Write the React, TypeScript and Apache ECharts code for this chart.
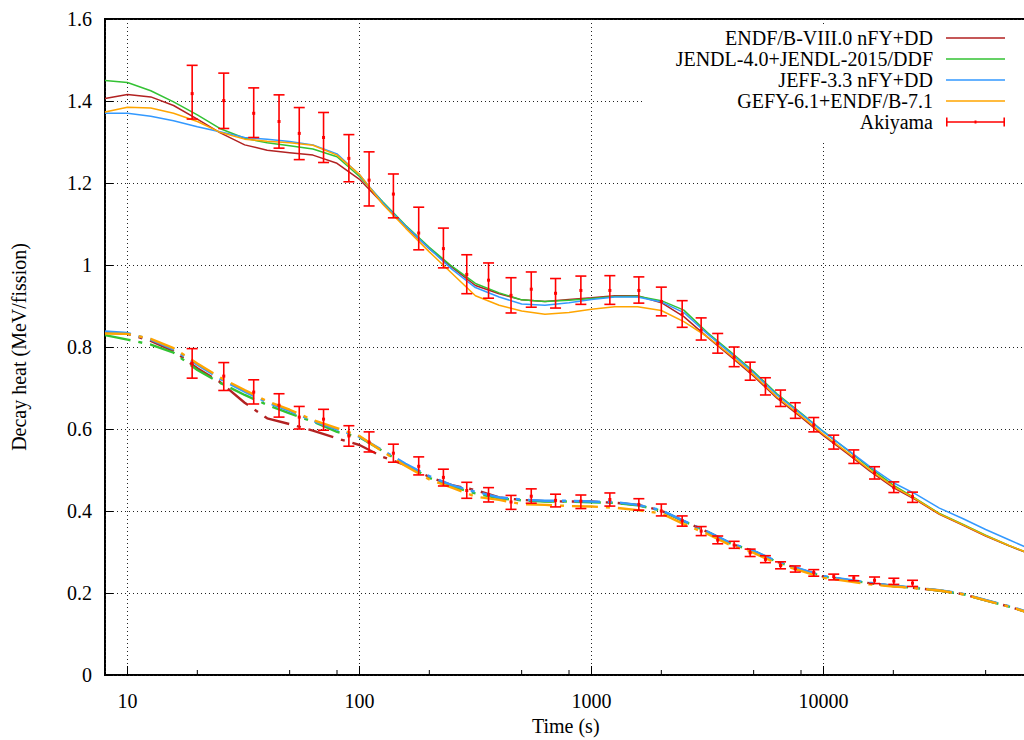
import React, { useEffect, useRef } from "react";
import * as echarts from "echarts";

const FONT = '"Liberation Serif", "Times New Roman", serif';

// Model time grid (s)
const TIMES = [8, 10, 12.6, 15.8, 20, 25, 32, 40, 50, 63, 80, 100, 126, 158, 200, 250, 316, 400, 500, 630, 800, 1000, 1260, 1580, 2000, 2500, 3160, 4000, 5000, 6300, 8000, 10000, 12600, 15800, 20000, 25000, 31600, 40000, 50000, 63000, 80000];

// Upper group (solid lines)
const ENDF_UP = [1.406, 1.416, 1.410, 1.389, 1.356, 1.323, 1.293, 1.280, 1.274, 1.268, 1.248, 1.209, 1.150, 1.094, 1.040, 0.995, 0.950, 0.930, 0.915, 0.911, 0.916, 0.920, 0.925, 0.925, 0.908, 0.874, 0.824, 0.776, 0.729, 0.675, 0.629, 0.584, 0.541, 0.498, 0.457, 0.427, 0.392, 0.365, 0.339, 0.315, 0.292];
const JENDL_UP = [1.450, 1.445, 1.425, 1.398, 1.366, 1.333, 1.309, 1.298, 1.291, 1.283, 1.264, 1.216, 1.154, 1.097, 1.043, 0.997, 0.955, 0.932, 0.915, 0.911, 0.914, 0.918, 0.923, 0.924, 0.913, 0.890, 0.835, 0.787, 0.740, 0.686, 0.639, 0.594, 0.550, 0.506, 0.463, 0.430, 0.394, 0.367, 0.341, 0.316, 0.293];
const JEFF_UP = [1.370, 1.370, 1.363, 1.352, 1.337, 1.325, 1.311, 1.307, 1.301, 1.293, 1.271, 1.220, 1.152, 1.095, 1.040, 0.990, 0.945, 0.922, 0.905, 0.902, 0.908, 0.916, 0.922, 0.922, 0.910, 0.884, 0.832, 0.784, 0.737, 0.683, 0.637, 0.593, 0.551, 0.509, 0.469, 0.441, 0.407, 0.381, 0.355, 0.330, 0.304];
const GEFY_UP = [1.373, 1.385, 1.383, 1.370, 1.350, 1.324, 1.307, 1.302, 1.298, 1.292, 1.268, 1.221, 1.148, 1.090, 1.032, 0.980, 0.925, 0.902, 0.888, 0.880, 0.884, 0.892, 0.898, 0.898, 0.889, 0.862, 0.825, 0.779, 0.732, 0.678, 0.632, 0.587, 0.544, 0.501, 0.460, 0.429, 0.393, 0.366, 0.340, 0.316, 0.293];

// Lower group (dash-dot lines)
const ENDF_LOW = [0.835, 0.832, 0.815, 0.790, 0.748, 0.715, 0.664, 0.626, 0.612, 0.596, 0.577, 0.561, 0.532, 0.512, 0.483, 0.463, 0.451, 0.433, 0.427, 0.424, 0.423, 0.423, 0.420, 0.415, 0.401, 0.375, 0.349, 0.320, 0.302, 0.276, 0.257, 0.240, 0.232, 0.224, 0.217, 0.212, 0.206, 0.197, 0.182, 0.167, 0.149];
const JENDL_LOW = [0.829, 0.818, 0.806, 0.786, 0.744, 0.713, 0.683, 0.659, 0.638, 0.618, 0.593, 0.580, 0.546, 0.513, 0.481, 0.460, 0.443, 0.431, 0.426, 0.423, 0.423, 0.421, 0.420, 0.414, 0.401, 0.375, 0.349, 0.320, 0.302, 0.276, 0.257, 0.240, 0.232, 0.224, 0.217, 0.212, 0.206, 0.197, 0.182, 0.167, 0.149];
const JEFF_LOW = [0.838, 0.834, 0.818, 0.794, 0.757, 0.723, 0.691, 0.665, 0.644, 0.620, 0.599, 0.581, 0.548, 0.515, 0.485, 0.463, 0.447, 0.433, 0.428, 0.425, 0.425, 0.423, 0.422, 0.415, 0.402, 0.376, 0.350, 0.321, 0.303, 0.277, 0.258, 0.241, 0.233, 0.225, 0.218, 0.213, 0.207, 0.198, 0.183, 0.168, 0.150];
const GEFY_LOW = [0.833, 0.832, 0.820, 0.797, 0.760, 0.726, 0.695, 0.668, 0.647, 0.622, 0.602, 0.583, 0.545, 0.510, 0.477, 0.457, 0.435, 0.427, 0.417, 0.415, 0.412, 0.411, 0.408, 0.402, 0.394, 0.368, 0.344, 0.316, 0.298, 0.272, 0.254, 0.237, 0.229, 0.221, 0.216, 0.212, 0.206, 0.197, 0.182, 0.167, 0.149];

// Akiyama measurements
const AKI_T = [19, 26, 35, 45, 55, 70, 90, 110, 140, 180, 230, 290, 360, 450, 550, 700, 900, 1200, 1600, 2000, 2460, 2970, 3500, 4120, 4830, 5620, 6530, 7560, 9080, 11070, 13510, 16600, 20100, 24200];
const AKI_UP = [1.418, 1.401, 1.370, 1.350, 1.321, 1.311, 1.260, 1.207, 1.173, 1.078, 1.040, 0.977, 0.963, 0.926, 0.941, 0.931, 0.938, 0.938, 0.938, 0.911, 0.880, 0.841, 0.809, 0.775, 0.741, 0.705, 0.672, 0.645, 0.610, 0.567, 0.532, 0.493, 0.457, 0.435];
const AKI_UP_LO = [1.356, 1.333, 1.311, 1.285, 1.257, 1.250, 1.203, 1.144, 1.115, 1.037, 0.993, 0.930, 0.919, 0.883, 0.897, 0.895, 0.904, 0.904, 0.907, 0.876, 0.848, 0.817, 0.785, 0.752, 0.719, 0.683, 0.655, 0.626, 0.593, 0.551, 0.516, 0.478, 0.445, 0.421];
const AKI_UP_HI = [1.487, 1.468, 1.432, 1.415, 1.384, 1.372, 1.318, 1.276, 1.222, 1.141, 1.090, 1.025, 1.005, 0.969, 0.983, 0.967, 0.973, 0.974, 0.971, 0.946, 0.913, 0.871, 0.833, 0.800, 0.763, 0.725, 0.695, 0.664, 0.628, 0.585, 0.549, 0.508, 0.471, 0.446];
const AKI_LOW = [0.760, 0.729, 0.690, 0.658, 0.629, 0.624, 0.583, 0.568, 0.541, 0.509, 0.482, 0.450, 0.440, 0.422, 0.436, 0.426, 0.424, 0.428, 0.416, 0.400, 0.376, 0.351, 0.329, 0.317, 0.298, 0.282, 0.267, 0.259, 0.250, 0.240, 0.237, 0.231, 0.229, 0.224];
const AKI_LOW_LO = [0.724, 0.694, 0.661, 0.629, 0.600, 0.597, 0.558, 0.544, 0.519, 0.488, 0.461, 0.431, 0.422, 0.404, 0.419, 0.410, 0.406, 0.412, 0.402, 0.388, 0.363, 0.340, 0.320, 0.309, 0.289, 0.274, 0.259, 0.251, 0.241, 0.232, 0.230, 0.223, 0.221, 0.216];
const AKI_LOW_HI = [0.796, 0.762, 0.720, 0.686, 0.655, 0.648, 0.608, 0.593, 0.563, 0.532, 0.502, 0.470, 0.457, 0.438, 0.454, 0.441, 0.439, 0.444, 0.430, 0.417, 0.388, 0.362, 0.339, 0.326, 0.307, 0.291, 0.276, 0.266, 0.257, 0.246, 0.242, 0.239, 0.236, 0.231];

const NAMES = ["ENDF/B-VIII.0 nFY+DD", "JENDL-4.0+JENDL-2015/DDF", "JEFF-3.3 nFY+DD", "GEFY-6.1+ENDF/B-7.1"];
const COLORS = ["#b22222", "#33c233", "#3399ff", "#ffa500"];
const UPPER = [ENDF_UP, JENDL_UP, JEFF_UP, GEFY_UP];
const LOWER = [ENDF_LOW, JENDL_LOW, JEFF_LOW, GEFY_LOW];
const AKI_NAME = "Akiyama";

const X_MIN = 8;
const X_MAX = 75000;
const Y_MIN = 0;
const Y_MAX = 1.6;
const Y_STEP = 0.2;
const MINOR_TICKS = [20, 50, 80, 200, 500, 800, 2000, 5000, 8000, 20000, 50000];

const LINE_ICON = "path://M0,0h0.01v0.01h-0.01z M0,6.25h60v1.5h-60z M0,14h0.01v0.01h-0.01z";
const BAR_ICON = "path://M0,0h0.01v0.01h-0.01z M0,2.5h1.6v9h-1.6z M0,6.3h60v1.4h-60z M58.4,2.5h1.6v9h-1.6z M29,5.5h2v3h-2z M0,14h0.01v0.01h-0.01z";

function buildOption() {
  const pairs = (ys: number[]) => TIMES.map((t, i) => [t, ys[i]]);
  const series: any[] = [];
  UPPER.forEach((ys, k) => {
    series.push({
      name: NAMES[k],
      type: "line",
      data: pairs(ys),
      symbol: "none",
      color: COLORS[k],
      itemStyle: { color: COLORS[k] },
      lineStyle: { width: 1.5, color: COLORS[k] },
      z: 2,
    });
  });
  LOWER.forEach((ys, k) => {
    series.push({
      name: NAMES[k] + " (lower)",
      type: "line",
      data: pairs(ys),
      symbol: "none",
      color: COLORS[k],
      lineStyle: { width: 2.4, color: COLORS[k], type: [26, 8, 4, 8] },
      z: 2,
    });
  });
  const akiData: number[][] = [];
  AKI_T.forEach((t, i) => akiData.push([t, AKI_UP[i], AKI_UP_LO[i], AKI_UP_HI[i]]));
  AKI_T.forEach((t, i) => akiData.push([t, AKI_LOW[i], AKI_LOW_LO[i], AKI_LOW_HI[i]]));
  series.push({
    name: AKI_NAME,
    type: "custom",
    color: "#ff0000",
    itemStyle: { color: "#ff0000" },
    encode: { x: 0, y: [1, 2, 3] },
    data: akiData,
    z: 5,
    renderItem: (params: any, api: any) => {
      const t = api.value(0);
      const p = api.coord([t, api.value(1)]);
      const lo = api.coord([t, api.value(2)]);
      const hi = api.coord([t, api.value(3)]);
      const cap = 5.5;
      const st = { stroke: "#ff0000", lineWidth: 1.6 };
      return {
        type: "group",
        children: [
          { type: "line", shape: { x1: hi[0], y1: hi[1], x2: lo[0], y2: lo[1] }, style: st },
          { type: "line", shape: { x1: hi[0] - cap, y1: hi[1], x2: hi[0] + cap, y2: hi[1] }, style: st },
          { type: "line", shape: { x1: lo[0] - cap, y1: lo[1], x2: lo[0] + cap, y2: lo[1] }, style: st },
          { type: "rect", shape: { x: p[0] - 1.5, y: p[1] - 1.5, width: 3, height: 3 }, style: { fill: "#ff0000" } },
        ],
      };
    },
  });
  series.push({
    name: "minor ticks",
    type: "custom",
    silent: true,
    encode: { x: 0, y: 1 },
    data: MINOR_TICKS.map((v) => [v, Y_MIN]),
    z: 6,
    renderItem: (params: any, api: any) => {
      const p = api.coord([api.value(0), api.value(1)]);
      return { type: "line", shape: { x1: p[0], y1: p[1], x2: p[0], y2: p[1] - 5 }, style: { stroke: "#000", lineWidth: 1 } };
    },
  });

  const labelStyle = { fontFamily: FONT, fontSize: 20, color: "#000" };
  const gridLine = { show: true, lineStyle: { color: "#222", width: 1, type: [1, 3] } };

  return {
    animation: false,
    backgroundColor: "#fff",
    grid: {
      left: 105,
      top: 19,
      right: -2.5,
      bottom: 65,
      show: true,
      borderColor: "#000",
      borderWidth: 2,
      backgroundColor: "transparent",
      containLabel: false,
      outerBoundsMode: "none",
    },
    legend: {
      orient: "vertical",
      right: 0,
      top: 26,
      align: "right",
      itemWidth: 59,
      itemHeight: 14,
      itemGap: 1,
      padding: [2, 19, 10, 33],
      backgroundColor: "#fff",
      selectedMode: false,
      textStyle: { ...labelStyle, lineHeight: 20, padding: [0, 8, 0, 0] },
      data: [
        ...NAMES.map((n) => ({ name: n, icon: LINE_ICON })),
        { name: AKI_NAME, icon: BAR_ICON },
      ],
    },
    xAxis: {
      type: "log",
      logBase: 10,
      min: X_MIN,
      max: X_MAX,
      axisLine: { show: false },
      axisTick: { show: true, inside: true, length: 9, lineStyle: { color: "#000", width: 1 } },
      axisLabel: { ...labelStyle, margin: 16, showMinLabel: false, showMaxLabel: false, formatter: (v: number) => String(Math.round(v)) },
      splitLine: gridLine,
      name: "Time (s)",
      nameLocation: "middle",
      nameGap: 41,
      nameTextStyle: labelStyle,
    },
    yAxis: {
      type: "value",
      min: Y_MIN,
      max: Y_MAX,
      interval: Y_STEP,
      axisLine: { show: false },
      axisTick: { show: true, inside: true, length: 8, lineStyle: { color: "#000", width: 1 } },
      axisLabel: { ...labelStyle, margin: 13 },
      splitLine: gridLine,
      name: "Decay heat (MeV/fission)",
      nameLocation: "middle",
      nameGap: 76,
      nameTextStyle: labelStyle,
    },
    series,
  };
}

export default function App() {
  const ref = useRef<HTMLDivElement>(null);
  useEffect(() => {
    if (!ref.current) return;
    const chart = echarts.init(ref.current, null, { renderer: "svg" });
    chart.setOption(buildOption() as any);
    return () => chart.dispose();
  }, []);
  return (
    <div
      ref={ref}
      style={{ position: "fixed", left: 0, top: 0, width: 1024, height: 740, background: "#fff" }}
    />
  );
}
